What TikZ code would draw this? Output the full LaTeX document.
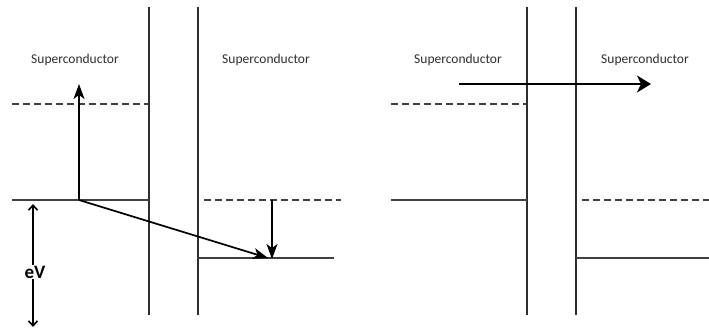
\documentclass[tikz,border=0pt]{standalone}
\usepackage{fontspec}
\setsansfont{Carlito}
\usetikzlibrary{arrows.meta}

\begin{document}
\begin{tikzpicture}[x=1pt, y=-1pt,
    nivel/.style={line width=2.8pt, draw=black!75},
    hueco/.style={nivel, dash pattern=on 7pt off 4pt},
    barrera/.style={line width=1.6pt, draw=black!82},
    flecha/.style={line width=1.7pt, -{Stealth[length=15pt, width=11pt, inset=4pt]}},
    etiqueta/.style={font=\sffamily\fontsize{13.5}{15}\selectfont, text=black!82}]
    \useasboundingbox (0,0) rectangle (709,330);

    % panel izquierdo: barreras
    \coordinate (b1t) at (149,7);   \coordinate (b1b) at (149,315);
    \coordinate (b2t) at (198,7);   \coordinate (b2b) at (198,315);
    \draw[barrera] (b1t) -- (b1b);
    \draw[barrera] (b2t) -- (b2b);

    % niveles del superconductor izquierdo
    \coordinate (hL1) at (12,104);  \coordinate (hL2) at (148,104);
    \coordinate (nL1) at (12,200);  \coordinate (nL2) at (149,200);
    \draw[hueco] (hL1) -- (hL2);
    \draw[nivel] (nL1) -- (nL2);

    % niveles del superconductor derecho (desplazados en eV)
    \coordinate (hR1) at (204,200); \coordinate (hR2) at (341,200);
    \coordinate (nR1) at (198,258); \coordinate (nR2) at (334,258);
    \draw[hueco] (hR1) -- (hR2);
    \draw[nivel] (nR1) -- (nR2);

    \node[etiqueta] (sc1) at (75,60) {Superconductor};
    \node[etiqueta] (sc2) at (266,60) {Superconductor};

    % transiciones
    \coordinate (p0) at (79,200);
    \coordinate (p1) at (79,84);
    \coordinate (p2) at (268,258);
    \coordinate (q0) at (272,200);
    \coordinate (q1) at (272,259);
    \draw[flecha] (p0) -- (p1);
    \draw[flecha] (p0) -- (p2);
    \draw[flecha] (q0) -- (q1);

    % diferencia de potencial
    \coordinate (v0) at (33,204);
    \coordinate (v1) at (33,327);
    \draw[line width=1.6pt, {Straight Barb[length=5pt, width=9pt]}-{Straight Barb[length=5pt, width=9pt]}] (v0) -- (v1);
    \node[fill=white, inner sep=1pt, font=\sffamily\bfseries\fontsize{19}{20}\selectfont] (eV) at (35,272) {eV};

    % panel derecho: barreras
    \coordinate (c1t) at (527,7);   \coordinate (c1b) at (527,315);
    \coordinate (c2t) at (576,7);   \coordinate (c2b) at (576,315);
    \draw[barrera] (c1t) -- (c1b);
    \draw[barrera] (c2t) -- (c2b);

    \coordinate (kL1) at (391,104); \coordinate (kL2) at (527,104);
    \coordinate (mL1) at (391,200); \coordinate (mL2) at (527,200);
    \coordinate (kR1) at (582,200); \coordinate (kR2) at (709,200);
    \coordinate (mR1) at (576,258); \coordinate (mR2) at (709,258);
    \draw[hueco] (kL1) -- (kL2);
    \draw[nivel] (mL1) -- (mL2);
    \draw[hueco] (kR1) -- (kR2);
    \draw[nivel] (mR1) -- (mR2);

    \node[etiqueta] (sc3) at (458,60) {Superconductor};
    \node[etiqueta] (sc4) at (645,60) {Superconductor};

    % tunel de pares
    \coordinate (t0) at (459,84);
    \coordinate (t1) at (651,84);
    \draw[line width=1.6pt, -{Stealth[length=14pt, width=17pt, inset=4pt]}] (t0) -- (t1);
\end{tikzpicture}
\end{document}
